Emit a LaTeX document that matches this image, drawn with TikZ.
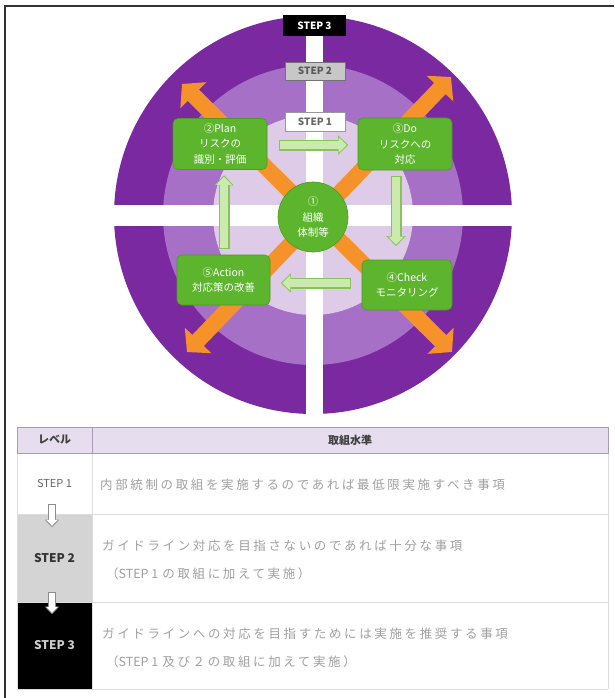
\documentclass[tikz,border=0pt]{standalone}
\usepackage{fontspec}
\setmainfont{Noto Sans CJK JP}
\newfontfamily\tabfont[LetterSpace=21]{Noto Sans CJK JP}
\newfontfamily\tabplain{Noto Sans CJK JP}
\usetikzlibrary{arrows.meta,calc}
\definecolor{purA}{HTML}{7B29A0}
\definecolor{purB}{HTML}{A570C6}
\definecolor{purC}{HTML}{DDCBE8}
\definecolor{orng}{HTML}{F5922A}
\definecolor{grn}{HTML}{5DB52D}
\definecolor{grnD}{HTML}{4C9A22}
\definecolor{pale}{HTML}{CBEBAE}
\definecolor{paleD}{HTML}{86C45A}
\definecolor{hdr}{HTML}{E6DDEE}
\definecolor{hdrD}{HTML}{A99BB5}
\definecolor{gcell}{HTML}{D4D4D4}
\definecolor{txtg}{HTML}{A0A0A0}
\definecolor{gridg}{HTML}{DDDDDD}
\tikzset{
  steplab/.style={inner sep=0pt, font=\fontsize{10}{12}\selectfont\bfseries, line width=0.8pt},
  orangearrow/.style={draw=orng, line width=16pt,
    {Triangle[length=16pt,width=36pt]}-{Triangle[length=16pt,width=36pt]}},
  gbox/.style={draw=grnD, fill=grn, rounded corners=5pt, text=white, align=center,
    font=\fontsize{10.5}{15.5}\selectfont, inner sep=0pt, line width=0.6pt},
  palearrow/.style={draw=pale, line width=8.5pt, -{Triangle[length=8pt,width=15pt]},
    preaction={draw=paleD, line width=11pt, -{Triangle[length=10pt,width=18.5pt]},
      shorten >=-1.5pt, shorten <=-1pt}},
  tabarrow/.style={draw=white, line width=5.5pt, -{Triangle[length=6pt,width=11pt]},
    preaction={draw=black!45, line width=7.5pt, -{Triangle[length=7.5pt,width=14pt]},
      shorten >=-1.4pt, shorten <=-1pt}},
  lvcell/.style={minimum width=75pt, inner sep=0pt, font=\fontsize{11}{13}\selectfont},
  rowtext/.style={anchor=west, inner sep=0pt, text=txtg, font=\fontsize{12.5}{15}\tabfont},
}
\begin{document}
\begin{tikzpicture}[x=1pt,y=-1pt]
\useasboundingbox (0,0) rectangle (614,698);
\fill[white] (0,0) rectangle (614,698);
% frame
\draw[line width=1.2pt, black!80] (5,698) -- (5,6) -- (614,6);
% rings
\fill[purA] (313,215) circle (199);
\fill[purB] (313,215) circle (150);
\fill[purC] (313,215) circle (100);
% white cross
\fill[white] (306,36) rectangle (323,414);
\fill[white] (113,205) rectangle (513,226);
% step labels
\node[steplab, fill=black, text=white, minimum width=63pt, minimum height=21pt] (s3) at (314.5,25.5) {STEP 3};
\node[steplab, fill=black!22, draw=black!55, text=black!65, minimum width=60pt, minimum height=18pt] (s2) at (315,71) {STEP 2};
\node[steplab, fill=white, draw=black!40, text=black!60, minimum width=60pt, minimum height=19pt] (s1) at (315,121.5) {STEP 1};
% orange double arrows
\coordinate (onw) at (182,84);
\coordinate (ose) at (452,352);
\coordinate (one) at (451,77);
\coordinate (osw) at (187,352);
\draw[orangearrow] (onw) -- (ose);
\draw[orangearrow] (one) -- (osw);
% green boxes
\node[gbox, minimum width=94pt, minimum height=51pt] (plan) at (220,144) {②Plan\\リスクの\\識別・評価};
\node[gbox, minimum width=94pt, minimum height=52pt] (do) at (405,144) {③Do\\リスクへの\\対応};
\node[gbox, minimum width=93pt, minimum height=50pt] (action) at (223.5,280) {⑤Action\\対応策の改善};
\node[gbox, minimum width=90pt, minimum height=50pt] (check) at (407,285) {④Check\\モニタリング};
\node[draw=grnD, fill=grn, circle, minimum size=70pt, inner sep=0pt, text=white, align=center,
  font=\fontsize{10.5}{15.5}\selectfont, line width=0.6pt] (org) at (313,217) {①\\組織\\体制等};
% pale arrows
\draw[palearrow] ($(plan.east)+(13,1)$) -- ($(plan.east -| do.west)+(-11,1)$);
\draw[palearrow] ($(do.south)+(-9,7)$) -- ($(check.north)+(-11,-15)$);
\draw[palearrow] ($(check.west)+(-12,-2)$) -- ($(check.west -| action.east)+(12,-2)$);
\draw[palearrow] ($(action.north)+(0.5,-7)$) -- ($(plan.south)+(4,7)$);
% table
\fill[white] (17,453) rectangle (608,689);
\node[lvcell, minimum height=61pt, text=black!60] (lv1) at (54.5,483.5) {STEP 1};
\node[lvcell, minimum height=88pt, fill=gcell, text=black!80, font=\fontsize{12}{14}\selectfont\bfseries] (lv2) at (54.5,558) {STEP 2};
\node[lvcell, minimum height=87pt, fill=black, text=black!20, font=\fontsize{12}{14}\selectfont\bfseries] (lv3) at (54.5,645.5) {STEP 3};
\draw[gridg, line width=0.8pt] (92,453) -- (92,689);
\draw[gridg, line width=0.8pt] (17,514) -- (608,514);
\draw[gridg, line width=0.8pt] (17,602) -- (608,602);
\draw[gridg, line width=0.8pt] (17,689) -- (608,689);
\draw[gridg, line width=0.8pt] (608,453) -- (608,689);
\draw[gridg, line width=0.8pt] (17,453) -- (17,689);
\draw[hdrD, fill=hdr, line width=0.9pt] (17,427) rectangle (608,453);
\draw[hdrD, line width=0.9pt] (92,427) -- (92,453);
\node[font=\fontsize{11}{13}\selectfont\bfseries, text=black!75] (hlv) at (54.5,440) {レベル};
\node[font=\fontsize{11}{13}\selectfont\bfseries, text=black!75] (hstd) at (350,440) {取組水準};
\draw[tabarrow] ($(lv1.south)+(-2.5,-9)$) -- ($(lv2.north)+(-2.5,12)$);
\draw[tabarrow] ($(lv2.south)+(-2.5,-9)$) -- ($(lv3.north)+(-2.5,11)$);
\node[rowtext] (r1) at (100,485) {内部統制の取組を実施するのであれば最低限実施すべき事項};
\node[rowtext] (r2a) at (102,546) {ガイドライン対応を目指さないのであれば十分な事項};
\node[rowtext] (r2b) at (106,574) {（{\tabplain STEP 1}\hspace{4pt}の取組に加えて実施）};
\node[rowtext] (r3a) at (102,634) {ガイドラインへの対応を目指すためには実施を推奨する事項};
\node[rowtext] (r3b) at (106,662) {（{\tabplain STEP 1}\hspace{4pt}及び２の取組に加えて実施）};
\end{tikzpicture}
\end{document}
